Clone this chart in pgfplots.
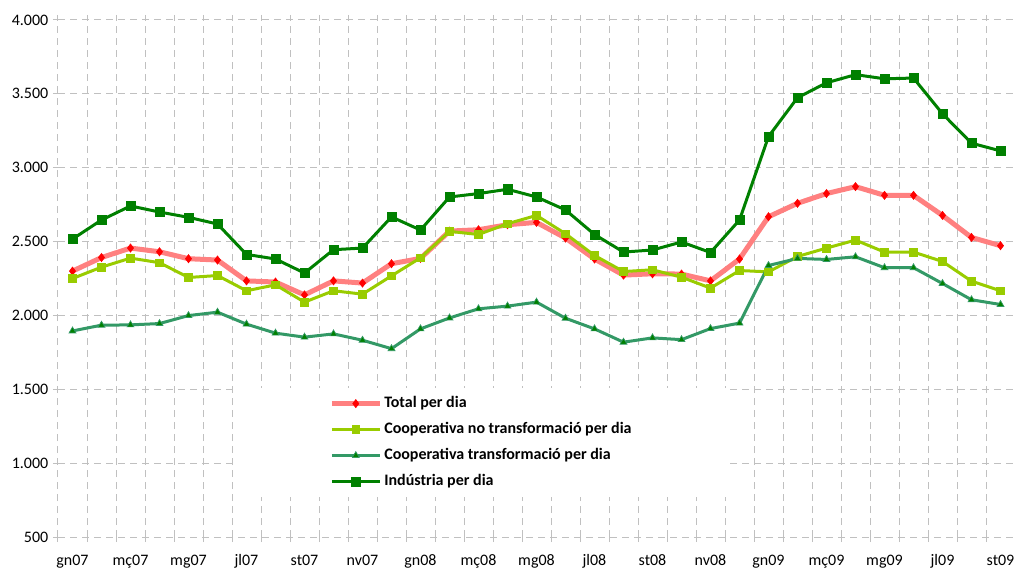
\documentclass[border=0pt]{standalone}
\usepackage{fontspec}
\setmainfont{Carlito}
\usepackage{pgfplots}
\pgfplotsset{compat=1.18}

\definecolor{totline}{RGB}{255,128,128}
\definecolor{totmark}{RGB}{255,0,0}
\definecolor{coopno}{RGB}{153,204,0}
\definecolor{coopsi}{RGB}{51,153,102}
\definecolor{indus}{RGB}{0,128,0}
\definecolor{gridc}{RGB}{192,192,192}

\begin{document}
\begin{tikzpicture}
\begin{axis}[
  name=ax,
  scale only axis,
  width=717.75pt, height=387.75pt,
  xmin=-0.5, xmax=32.5,
  ymin=500, ymax=4000,
  ytick={500,1000,...,4000},
  xtick={0,2,...,32},
  xticklabels={gn07,mç07,mg07,jl07,st07,nv07,gn08,mç08,mg08,jl08,st08,nv08,gn09,mç09,mg09,jl09,st09},
  minor xtick={-0.5,0.5,...,32.5},
  ymajorgrids, xminorgrids,
  grid style={gridc, line width=0.75pt, dash pattern=on 5.25pt off 3.75pt},
  axis line style={draw=none},
  tick align=outside,
  major tick length=3.75pt, minor tick length=3.75pt,
  major x tick style={draw=none},
  ytick style={gridc, line width=0.75pt},
  minor x tick style={gridc, line width=0.75pt},
  tick label style={font=\fontsize{12}{14}\selectfont, text=black},
  xticklabel style={yshift=-6pt},
  /pgf/number format/.cd, 1000 sep={.}, assume math mode=true, /pgfplots/.cd,
  legend style={at={(0.1829,0.2882)}, anchor=north west, fill=white, draw=none,
    inner xsep=72pt, inner ysep=4pt, row sep=4.5pt,
    font=\bfseries\fontsize{12}{14}\selectfont,
    nodes={inner sep=1.5pt, text height=9pt, text depth=3pt}},
  legend cell align=left,
  legend image code/.code={\draw[mark repeat=2,mark phase=2,#1] plot coordinates {(0pt,0pt) (18pt,0pt) (36pt,0pt)};},
]
% Total per dia
\addplot[color=totline, line width=3.75pt, mark=diamond*, mark size=3.1pt,
  mark options={fill=totmark, draw=totmark, line width=0.4pt}] coordinates {
  (0,2300) (1,2392) (2,2456) (3,2431) (4,2384) (5,2375) (6,2234) (7,2226)
  (8,2139) (9,2234) (10,2219) (11,2350) (12,2386) (13,2571) (14,2580) (15,2614)
  (16,2630) (17,2524) (18,2382) (19,2273) (20,2282) (21,2280) (22,2234) (23,2382)
  (24,2668) (25,2759) (26,2825) (27,2872) (28,2813) (29,2813) (30,2677) (31,2528) (32,2472)
};
\addlegendentry{Total per dia}
% Cooperativa no transformacio
\addplot[color=coopno, line width=2.25pt, mark=square*, mark size=2.9pt,
  mark options={fill=coopno, draw=coopno, line width=0.4pt}] coordinates {
  (0,2250) (1,2327) (2,2388) (3,2357) (4,2257) (5,2270) (6,2167) (7,2207)
  (8,2090) (9,2167) (10,2144) (11,2268) (12,2390) (13,2569) (14,2548) (15,2621)
  (16,2677) (17,2553) (18,2406) (19,2297) (20,2309) (21,2259) (22,2185) (23,2304)
  (24,2295) (25,2399) (26,2456) (27,2510) (28,2429) (29,2429) (30,2365) (31,2232) (32,2167)
};
\addlegendentry{Cooperativa no transformació per dia}
% Cooperativa transformacio
\addplot[color=coopsi, line width=2.25pt, mark=triangle*, mark size=3pt,
  mark options={fill=indus, draw=coopsi, line width=0.5pt}] coordinates {
  (0,1895) (1,1934) (2,1936) (3,1945) (4,1999) (5,2022) (6,1941) (7,1880)
  (8,1853) (9,1875) (10,1832) (11,1775) (12,1909) (13,1983) (14,2045) (15,2063)
  (16,2090) (17,1981) (18,1909) (19,1819) (20,1848) (21,1836) (22,1911) (23,1948)
  (24,2338) (25,2386) (26,2379) (27,2397) (28,2323) (29,2323) (30,2216) (31,2106) (32,2074)
};
\addlegendentry{Cooperativa transformació per dia}
% Industria
\addplot[color=indus, line width=2.25pt, mark=square*, mark size=3.4pt,
  mark options={fill=indus, draw=indus, line width=0.4pt}] coordinates {
  (0,2517) (1,2646) (2,2741) (3,2700) (4,2664) (5,2619) (6,2413) (7,2382)
  (8,2287) (9,2445) (10,2456) (11,2667) (12,2578) (13,2802) (14,2825) (15,2854)
  (16,2802) (17,2714) (18,2548) (19,2429) (20,2443) (21,2497) (22,2426) (23,2646)
  (24,3211) (25,3474) (26,3575) (27,3630) (28,3602) (29,3607) (30,3365) (31,3166) (32,3114)
};
\addlegendentry{Indústria per dia}
\end{axis}
\pgfresetboundingbox
\path[use as bounding box] ([xshift=-43.5pt,yshift=-23.25pt]ax.south west) rectangle ([yshift=15pt]ax.north east);
\end{tikzpicture}
\end{document}
